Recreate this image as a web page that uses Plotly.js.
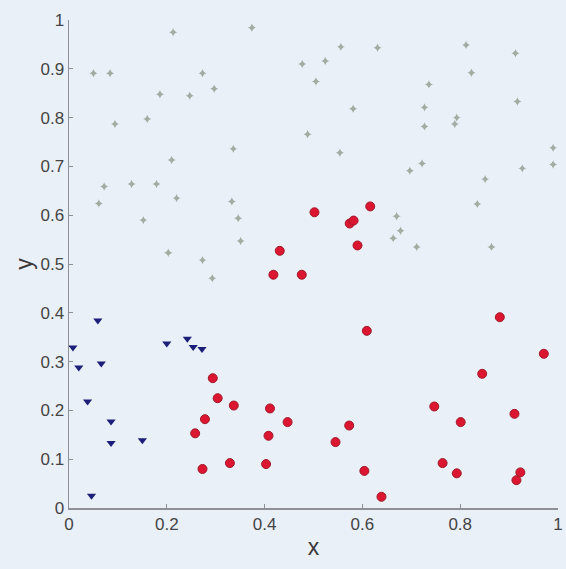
<!DOCTYPE html>
<html><head><meta charset="utf-8">
<script src="https://cdn.plot.ly/plotly-3.0.1.min.js"></script>
<style>body{margin:0;background:#eaf0f8}#chart{width:566px;height:569px}</style>
</head><body><div id="chart"></div>
<script>
const blueX = [0.008,0.020,0.038,0.046,0.059,0.066,0.086,0.086,0.150,0.200,0.242,0.254,0.272];
const blueY = [0.329,0.288,0.218,0.025,0.384,0.296,0.177,0.133,0.139,0.337,0.347,0.330,0.326];

const redX = [0.294,0.304,0.278,0.258,0.273,0.329,0.337,0.411,0.408,0.403,0.447,0.418,0.476,0.431,
  0.609,0.881,0.971,0.845,0.747,0.911,0.801,0.573,0.545,0.604,0.764,0.793,0.923,0.915,0.639,
  0.502,0.574,0.582,0.616,0.590];
const redY = [0.266,0.225,0.182,0.153,0.080,0.092,0.210,0.204,0.148,0.090,0.176,0.478,0.478,0.527,
  0.363,0.391,0.316,0.275,0.208,0.193,0.176,0.169,0.135,0.076,0.092,0.071,0.073,0.057,0.023,
  0.606,0.583,0.589,0.618,0.538];

const grayX = [0.213,0.374,0.050,0.084,0.273,0.297,0.186,0.247,0.477,0.160,0.094,0.488,0.336,0.210,
  0.072,0.128,0.179,0.220,0.333,0.061,0.152,0.346,0.351,0.203,0.273,0.293,
  0.556,0.631,0.524,0.505,0.581,0.554,0.736,0.727,0.727,0.793,0.789,0.812,0.823,0.913,0.917,
  0.990,0.990,0.927,0.722,0.697,0.851,0.835,0.670,0.678,0.663,0.711,0.864];
const grayY = [0.975,0.984,0.891,0.891,0.891,0.859,0.848,0.845,0.910,0.797,0.787,0.766,0.736,0.713,
  0.659,0.664,0.664,0.635,0.628,0.624,0.590,0.594,0.547,0.523,0.508,0.471,
  0.945,0.943,0.916,0.874,0.818,0.728,0.868,0.821,0.782,0.800,0.787,0.949,0.892,0.932,0.833,
  0.738,0.704,0.696,0.706,0.691,0.674,0.623,0.598,0.568,0.553,0.535,0.535];

const xTicks = [0,0.2,0.4,0.6,0.8,1];
const xTickText = ['0','0.2','0.4','0.6','0.8','1'];
const yTicks = [0,0.1,0.2,0.3,0.4,0.5,0.6,0.7,0.8,0.9,1];
const yTickText = ['0','0.1','0.2','0.3','0.4','0.5','0.6','0.7','0.8','0.9','1'];

const traces = [
  {x: grayX, y: grayY, mode:'markers', type:'scatter',
   marker:{symbol:'star-diamond', size:6, color:'#a3aba3', line:{width:0}}},
  {x: blueX, y: blueY, mode:'markers', type:'scatter',
   marker:{symbol:'triangle-down', size:8, color:'#1c1f7a', line:{width:0}}},
  {x: redX, y: redY, mode:'markers', type:'scatter',
   marker:{symbol:'circle', size:9, color:'#dc1530', line:{width:1, color:'#a01a2a'}}}
];

const axisCommon = {
  showgrid:false, zeroline:false, showline:true, linecolor:'#8e9096', linewidth:1.5,
  ticks:'inside', ticklen:4, tickcolor:'#8e9096',
  tickfont:{family:'Liberation Sans, Arial, sans-serif', size:17, color:'#444444'}
};

const layout = {
  width:566, height:569,
  paper_bgcolor:'#eaf0f8', plot_bgcolor:'#eaf0f8',
  margin:{l:69, r:8, t:20, b:61},
  showlegend:false,
  xaxis: Object.assign({}, axisCommon, {range:[0,1], tickvals:xTicks, ticktext:xTickText,
    title:{text:'x', font:{family:'Liberation Sans, Arial, sans-serif', size:23, color:'#3a3a3a'}, standoff:6}}),
  yaxis: Object.assign({}, axisCommon, {range:[0,1], tickvals:yTicks, ticktext:yTickText,
    title:{text:'y', font:{family:'Liberation Sans, Arial, sans-serif', size:23, color:'#3a3a3a'}, standoff:1}})
};

Plotly.newPlot('chart', traces, layout, {displayModeBar:false, staticPlot:true});
</script></body></html>
